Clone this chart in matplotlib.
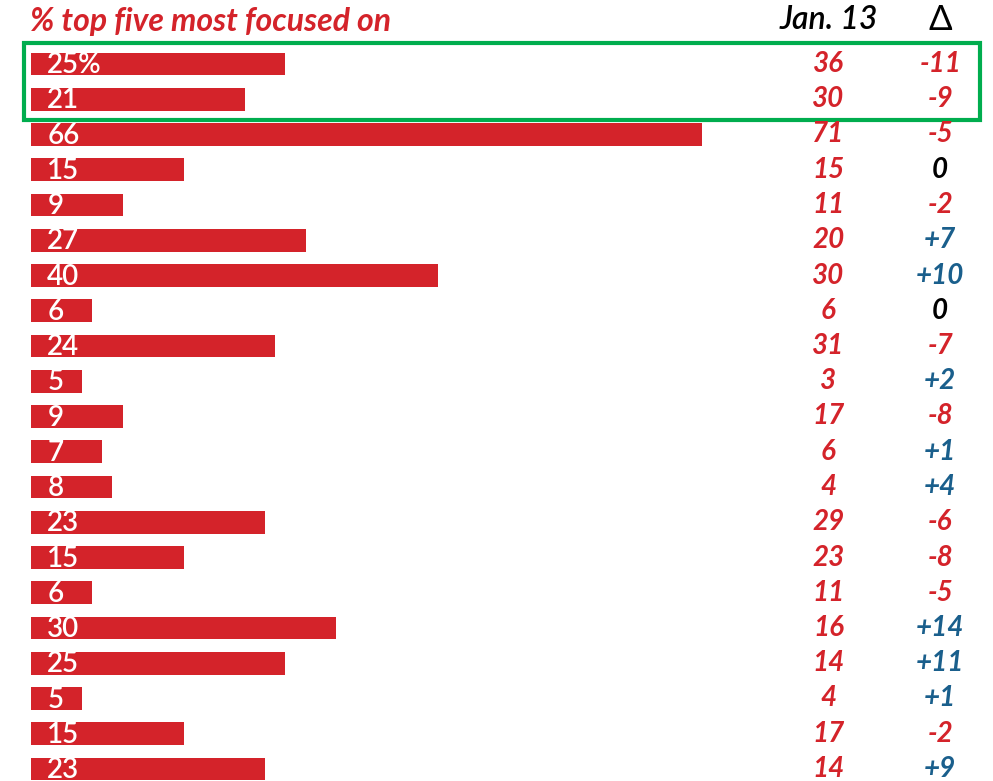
import matplotlib.pyplot as plt
from matplotlib.patches import Rectangle

# data
labels = ['25%', '21', '66', '15', '9', '27', '40', '6', '24', '5', '9',
          '7', '8', '23', '15', '6', '30', '25', '5', '15', '23']
values = [25, 21, 66, 15, 9, 27, 40, 6, 24, 5, 9, 7, 8, 23, 15, 6, 30, 25, 5, 15, 23]
jan13 = [36, 30, 71, 15, 11, 20, 30, 6, 31, 3, 17, 6, 4, 29, 23, 11, 16, 14, 4, 17, 14]
delta = ['-11', '-9', '-5', '0', '-2', '+7', '+10', '0', '-7', '+2', '-8',
         '+1', '+4', '-6', '-8', '-5', '+14', '+11', '+1', '-2', '+9']

red = '#d4232a'
blue = '#1a5f8c'
green = '#00ad4e'
font = 'Lato'

fig = plt.figure(figsize=(9.93, 7.81), dpi=100)
ax = fig.add_axes([0, 0, 1, 1])
ax.set_xlim(-31 / 10.17, (993 - 31) / 10.17)
ax.set_ylim((781 - 64) / 35.25, -64 / 35.25)
ax.axis('off')

rows = list(range(len(values)))
ax.barh(rows, values, height=0.65, color=red, left=0)

for i in rows:
    ax.text(1.6, i + 0.03, labels[i], color='white', fontsize=20, family=font,
            fontweight='semibold', ha='left', va='center')
    ax.text(78.4, i, str(jan13[i]), color=red, fontsize=20, family=font,
            style='italic', fontweight='bold', ha='center', va='center')
    d = delta[i]
    c = red if d.startswith('-') else (blue if d.startswith('+') else 'black')
    ax.text(89.4, i, d, color=c, fontsize=20, family=font,
            style='italic', fontweight='bold', ha='center', va='center')

# header
ax.text(-0.1, -1.2, '% top five most focused on', color=red, fontsize=23,
        family=font, style='italic', fontweight='bold', ha='left', va='center')
ax.text(78.4, -1.25, 'Jan. 13', color='black', fontsize=23, family=font,
        style='italic', fontweight='semibold', ha='center', va='center')
ax.text(89.4, -1.25, '\u0394', color='black', fontsize=25, family=font,
        ha='center', va='center')

# highlight box around the top two rows
ax.add_patch(Rectangle((-0.69, -0.6), 94.0, 2.19, fill=False,
                       edgecolor=green, linewidth=3, clip_on=False))

fig.savefig('out.png', dpi=100)
